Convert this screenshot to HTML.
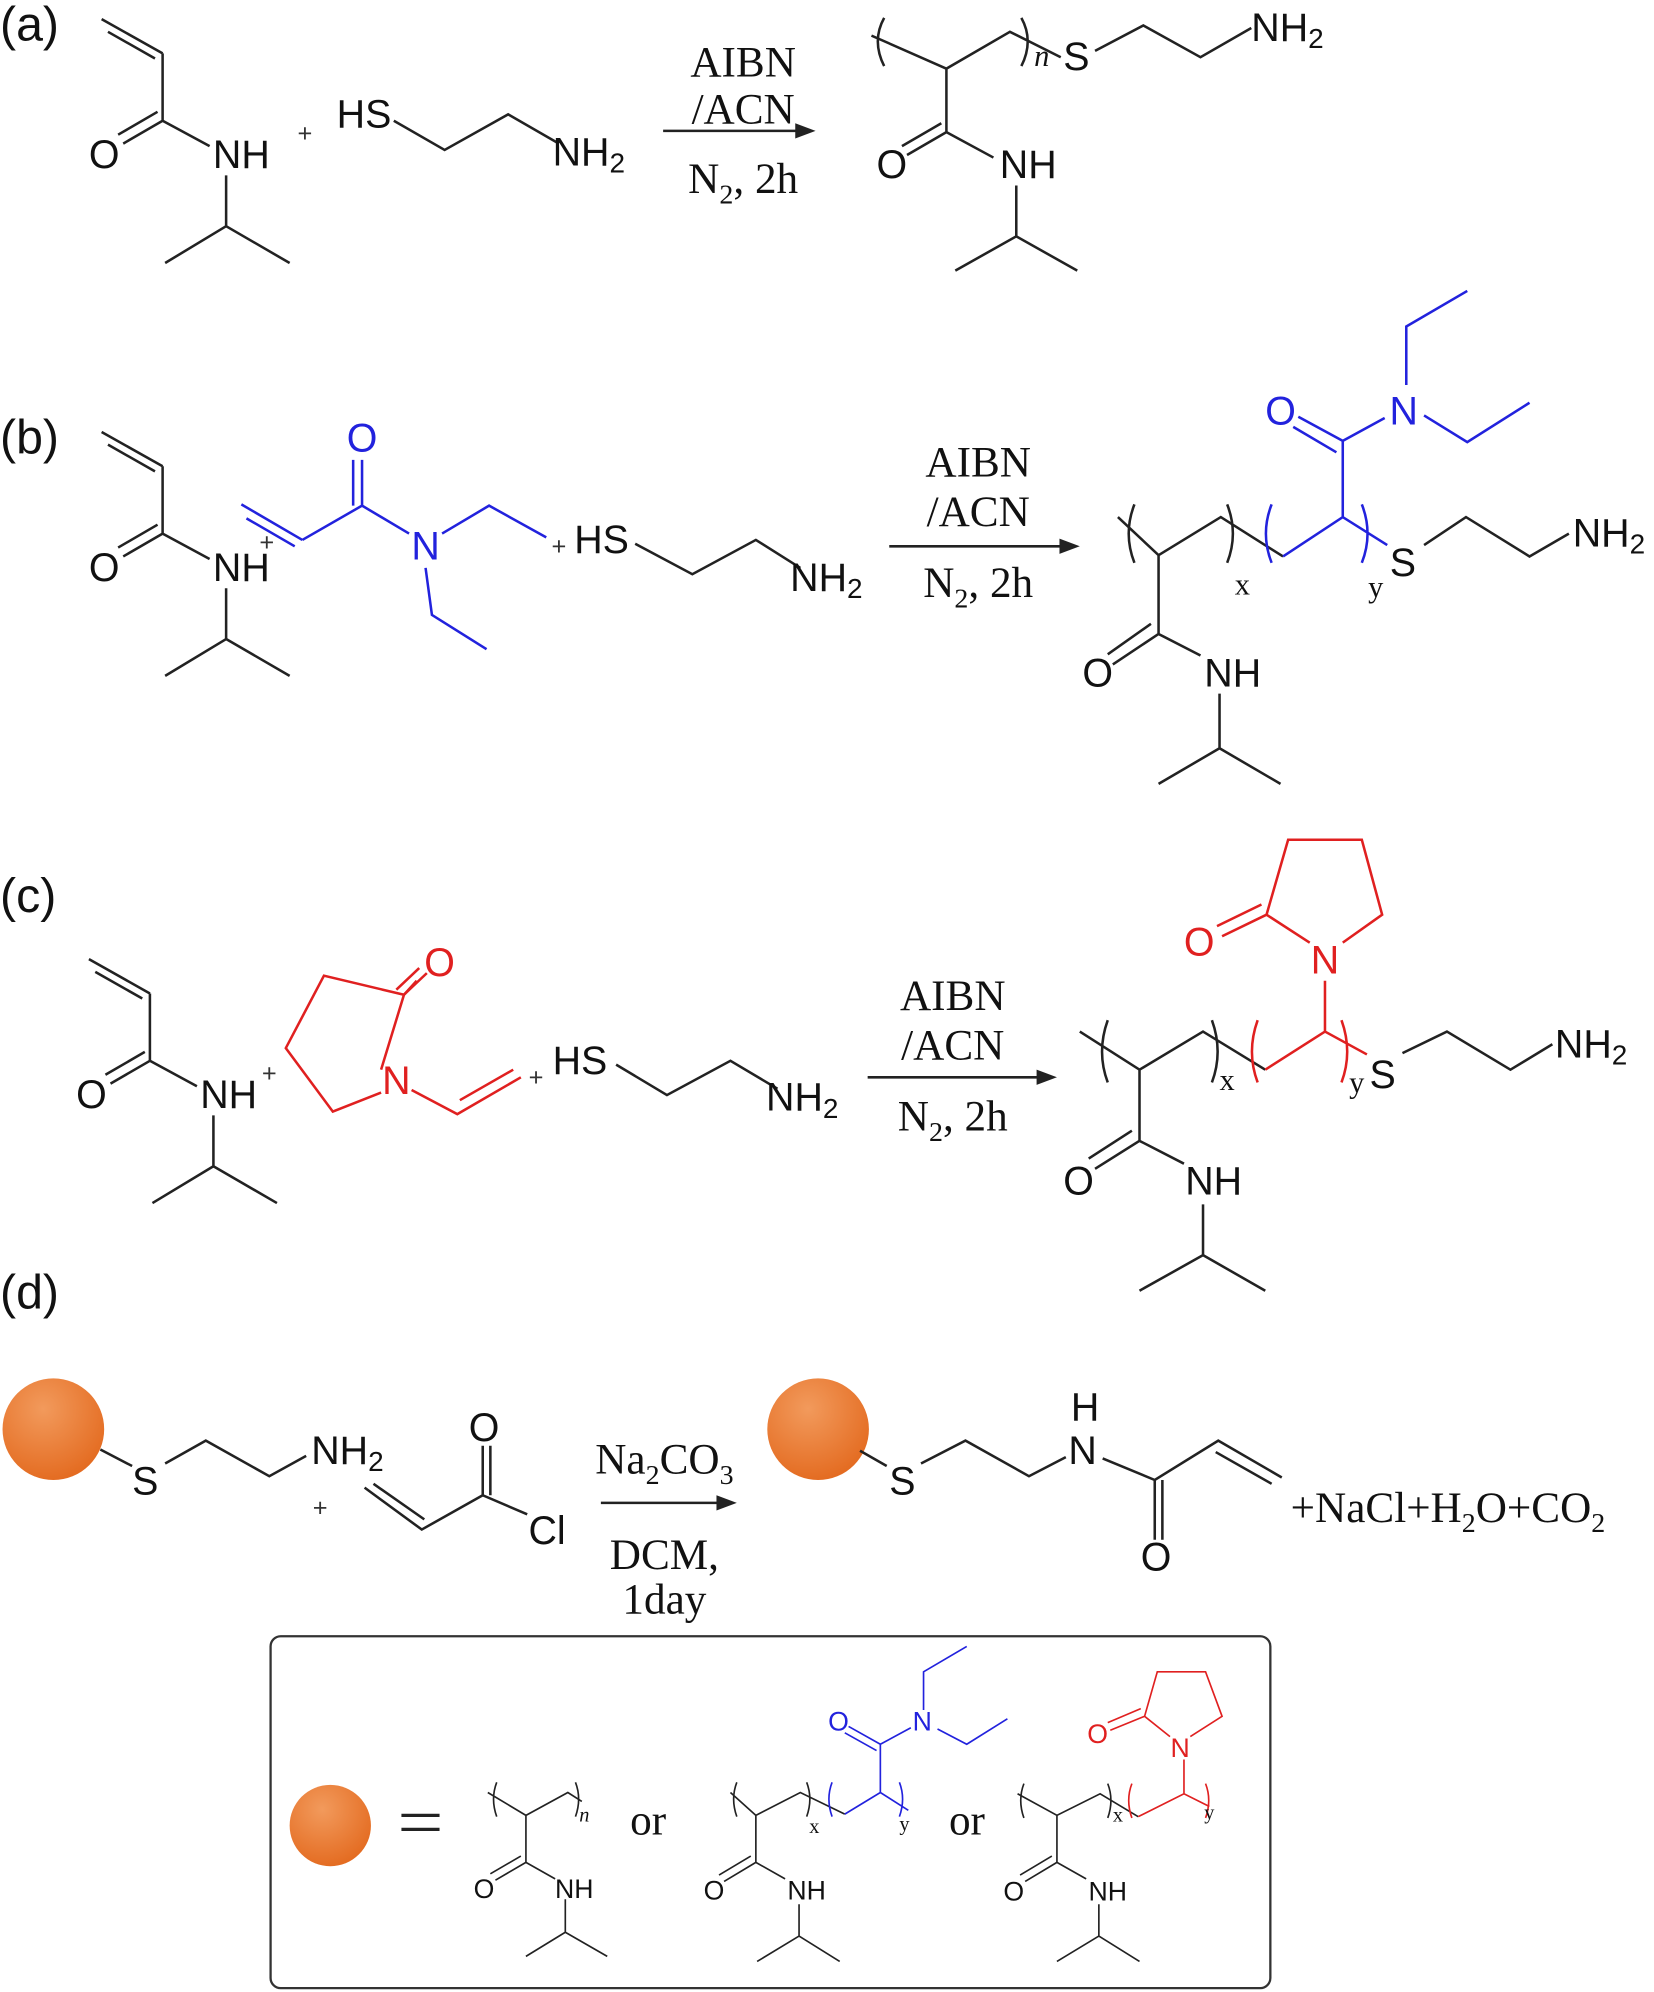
<!DOCTYPE html>
<html><head><meta charset="utf-8"><style>
html,body{margin:0;padding:0;background:#fff;}
svg{display:block;}
.s{font-family:"Liberation Sans",sans-serif;font-size:31px;}
.r{font-family:"Liberation Serif",serif;font-size:34px;}
.sm{font-family:"Liberation Sans",sans-serif;font-size:21px;}
</style></head><body>
<svg width="1654" height="1992" viewBox="0 0 1302 1568" xmlns="http://www.w3.org/2000/svg">
<defs>
<radialGradient id="og" cx="0.4" cy="0.3" r="0.8">
<stop offset="0" stop-color="#f29a5c"/><stop offset="1" stop-color="#e2661a"/>
</radialGradient>
</defs>
<g fill="none" stroke="#222" stroke-width="2" stroke-linecap="round">
</g>

<!-- labels -->
<g class="s" fill="#111">
<text x="0" y="32" style="font-size:38px">(a)</text>
<text x="0" y="357" style="font-size:38px">(b)</text>
<text x="0" y="718" style="font-size:38px">(c)</text>
<text x="0" y="1030" style="font-size:38px">(d)</text>
</g>

<!-- NIPAM monomers -->
<g id="m1">
<g fill="none" stroke="#222" stroke-width="2">
<path d="M80 15 L128 42 M85 25 L122 46 M128 42 L128 95 M128 95 L97 113 M124 88 L93 106 M128 95 L165 115 M178 138 L178 178 L130 207 M178 178 L228 207"/>
</g>
<g class="s" fill="#111" text-anchor="middle" dominant-baseline="central"><text x="82" y="122">O</text><text x="190" y="122">NH</text></g>
</g>
<g transform="translate(0,325)">
<g fill="none" stroke="#222" stroke-width="2">
<path d="M80 15 L128 42 M85 25 L122 46 M128 42 L128 95 M128 95 L97 113 M124 88 L93 106 M128 95 L165 115 M178 138 L178 178 L130 207 M178 178 L228 207"/>
</g>
<g class="s" fill="#111" text-anchor="middle" dominant-baseline="central"><text x="82" y="122">O</text><text x="190" y="122">NH</text></g>
</g>
<g transform="translate(-10,740)">
<g fill="none" stroke="#222" stroke-width="2">
<path d="M80 15 L128 42 M85 25 L122 46 M128 42 L128 95 M128 95 L97 113 M124 88 L93 106 M128 95 L165 115 M178 138 L178 178 L130 207 M178 178 L228 207"/>
</g>
<g class="s" fill="#111" text-anchor="middle" dominant-baseline="central"><text x="82" y="122">O</text><text x="190" y="122">NH</text></g>
</g>

<!-- pluses -->
<g class="s" fill="#333" style="font-size:20px" text-anchor="middle" dominant-baseline="central">
<text x="240" y="105">+</text><text x="210" y="427">+</text><text x="440" y="430">+</text>
<text x="212" y="845">+</text><text x="422" y="848">+</text><text x="252" y="1187">+</text>
</g>

<!-- thiols (a)(b)(c) -->
<g fill="none" stroke="#222" stroke-width="2">
<path d="M310 95 L350 118 L400 90 L440 113"/>
<path d="M500 428 L545 452 L595 425 L630 447"/>
<path d="M485 838 L525 862 L575 835 L612 857"/>
</g>
<g class="s" fill="#111" dominant-baseline="central">
<text x="265" y="90">HS</text><text x="435" y="120">NH<tspan style="font-size:22px" dy="8">2</tspan></text>
<text x="452" y="425">HS</text><text x="622" y="455">NH<tspan style="font-size:22px" dy="8">2</tspan></text>
<text x="435" y="835">HS</text><text x="603" y="864">NH<tspan style="font-size:22px" dy="8">2</tspan></text>
</g>

<!-- DEAA blue -->
<g fill="none" stroke="#2222dd" stroke-width="2">
<path d="M190 397 L238 425 M194 408 L232 430 M238 425 L285 398 M285 398 L285 362 M278 398 L278 362 M285 398 L322 420 M348 420 L385 398 L430 423 M335 447 L340 484 L383 511"/>
</g>
<g class="s" fill="#2222dd" text-anchor="middle" dominant-baseline="central"><text x="285" y="345">O</text><text x="335" y="430">N</text></g>

<!-- NVP red -->
<g fill="none" stroke="#e02020" stroke-width="2">
<path d="M318 783 L328 772 M318 783 L300 842 M318 783 L255 768 L225 825 L262 875 L300 860 M324 858 L360 877 L410 848 M362 866 L404 842"/>
<path d="M318 783 L336 766 M312 779 L330 762"/>
</g>
<g class="s" fill="#e02020" text-anchor="middle" dominant-baseline="central"><text x="346" y="758">O</text><text x="312" y="851">N</text></g>

<!-- arrows & conditions -->
<g fill="none" stroke="#222" stroke-width="2">
<path d="M522 103 L630 103 M700 430 L838 430 M683 848 L820 848 M473 1183 L565 1183"/>
</g>
<g fill="#222">
<polygon points="642,103 626,97 626,109"/><polygon points="850,430 834,424 834,436"/>
<polygon points="832,848 816,842 816,854"/><polygon points="580,1183 564,1177 564,1189"/>
</g>
<g class="r" fill="#111" text-anchor="middle">
<text x="585" y="60">AIBN</text><text x="585" y="97">/ACN</text><text x="585" y="152">N<tspan style="font-size:22px" dy="8">2</tspan><tspan dy="-8">, 2h</tspan></text>
<text x="770" y="375">AIBN</text><text x="770" y="414">/ACN</text><text x="770" y="470">N<tspan style="font-size:22px" dy="8">2</tspan><tspan dy="-8">, 2h</tspan></text>
<text x="750" y="795">AIBN</text><text x="750" y="834">/ACN</text><text x="750" y="890">N<tspan style="font-size:22px" dy="8">2</tspan><tspan dy="-8">, 2h</tspan></text>
<text x="523" y="1160">Na<tspan style="font-size:22px" dy="8">2</tspan><tspan dy="-8">CO</tspan><tspan style="font-size:22px" dy="8">3</tspan></text>
<text x="523" y="1235">DCM,</text><text x="523" y="1270">1day</text>
</g>

<!-- product (a) -->
<g fill="none" stroke="#222" stroke-width="2">
<path d="M686 28 L745 54 L795 25 L835 45 M696 14 Q686 32 696 52 M804 14 Q814 32 804 52 M862 40 L900 20 L945 45 L985 22 M745 54 L745 104 M745 104 L714 122 M741 97 L710 115 M745 104 L782 124 M800 146 L800 186 L752 213 M800 186 L848 213"/>
</g>
<g class="s" fill="#111" dominant-baseline="central">
<text x="690" y="130">O</text><text x="787" y="130">NH</text><text x="837" y="45">S</text>
<text x="985" y="22">NH<tspan style="font-size:22px" dy="8">2</tspan></text>
</g>
<text x="814" y="52" class="r" style="font-size:24px;font-style:italic" fill="#111">n</text>

<!-- product (b) -->
<g fill="none" stroke="#222" stroke-width="2">
<path d="M880 407 L912 437 L961 407 L1010 438 M893 397 Q884 420 893 443 M966 397 Q975 420 966 443 M1121 429 L1154 407 L1204 438 L1235 420 M912 437 L912 499 M912 499 L876 523 M906 491 L872 515 M912 499 L945 516 M960 546 L960 589 L912 617 M960 589 L1008 617"/>
</g>
<g fill="none" stroke="#2222dd" stroke-width="2">
<path d="M1010 438 L1057 407 L1092 429 M1001 397 Q992 420 1001 443 M1072 397 Q1081 420 1072 443 M1057 407 L1057 347 M1057 347 L1022 328 M1052 356 L1018 336 M1057 347 L1090 329 M1107 303 L1107 257 L1155 229 M1121 327 L1155 348 L1204 317"/>
</g>
<g class="s" fill="#2222dd" text-anchor="middle" dominant-baseline="central"><text x="1008" y="324">O</text><text x="1105" y="324">N</text></g>
<g class="s" fill="#111" dominant-baseline="central">
<text x="852" y="530">O</text><text x="948" y="530">NH</text><text x="1094" y="443">S</text>
<text x="1238" y="420">NH<tspan style="font-size:22px" dy="8">2</tspan></text>
</g>
<g class="r" fill="#111" style="font-size:24px"><text x="972" y="468">x</text><text x="1077" y="470">y</text></g>

<!-- product (c) -->
<g fill="none" stroke="#222" stroke-width="2">
<path d="M850 812 L897 842 L947 812 L996 842 M872 803 Q863 828 872 852 M954 803 Q963 828 954 852 M1104 829 L1139 812 L1189 842 L1222 822 M897 842 L897 898 M897 898 L862 920 M891 890 L857 912 M897 898 L932 916 M947 948 L947 988 L897 1016 M947 988 L996 1016"/>
</g>
<g fill="none" stroke="#e02020" stroke-width="2">
<path d="M996 842 L1043 812 L1076 830 M990 803 Q981 828 990 852 M1056 803 Q1065 828 1056 852 M1043 812 L1043 772 M1057 742 L1088 720 L1072 661 L1014 661 L997 720 L1031 742 M997 720 L962 737 M993 712 L958 729"/>
</g>
<g class="s" fill="#e02020" text-anchor="middle" dominant-baseline="central"><text x="944" y="742">O</text><text x="1043" y="756">N</text></g>
<g class="s" fill="#111" dominant-baseline="central">
<text x="837" y="930">O</text><text x="933" y="930">NH</text><text x="1078" y="846">S</text>
<text x="1224" y="822">NH<tspan style="font-size:22px" dy="8">2</tspan></text>
</g>
<g class="r" fill="#111" style="font-size:24px"><text x="960" y="858">x</text><text x="1062" y="860">y</text></g>

<!-- panel (d) -->
<circle cx="42" cy="1125" r="40" fill="url(#og)"/>
<circle cx="644" cy="1125" r="40" fill="url(#og)"/>
<g fill="none" stroke="#222" stroke-width="2">
<path d="M79 1141 L104 1154 M130 1152 L162 1134 L212 1162 L241 1146"/>
<path d="M287 1171 L332 1204 L380 1177 M294 1168 L334 1196 M380 1177 L380 1138 M386 1177 L386 1138 M380 1177 L415 1192"/>
<path d="M677 1142 L698 1154 M725 1152 L760 1134 L810 1162 L839 1147 M868 1148 L909 1165 L959 1134 L1009 1163 M957 1143 L1001 1168 M909 1165 L909 1212 M915 1165 L915 1212"/>
</g>
<g class="s" fill="#111" dominant-baseline="central">
<text x="104" y="1166">S</text><text x="245" y="1142">NH<tspan style="font-size:22px" dy="8">2</tspan></text>
<text x="369" y="1124">O</text><text x="416" y="1205">Cl</text>
<text x="700" y="1166">S</text><text x="841" y="1142">N</text><text x="843" y="1108">H</text><text x="898" y="1226">O</text>
</g>
<text x="1016" y="1198" class="r" fill="#111">+NaCl+H<tspan style="font-size:22px" dy="8">2</tspan><tspan dy="-8">O+CO</tspan><tspan style="font-size:22px" dy="8">2</tspan></text>

<!-- box -->
<rect x="213" y="1288" width="787" height="277" rx="8" fill="none" stroke="#333" stroke-width="1.8"/>
<circle cx="260" cy="1437" r="32" fill="url(#og)"/>
<g fill="none" stroke="#222" stroke-width="2.5"><path d="M316 1429 L346 1429 M316 1440 L346 1440"/></g>
<g class="r" fill="#111" style="font-size:34px"><text x="496" y="1444">or</text><text x="747" y="1444">or</text></g>
<g fill="none" stroke="#222" stroke-width="1.3">
<path d="M384 1411 L414 1429 L447 1411 L458 1418 M391 1403 Q386 1416 391 1430 M453 1403 Q458 1416 453 1430 M414 1429 L414 1466 M414 1466 L390 1480 M410 1461 L386 1475 M414 1466 L437 1479 M445 1495 L445 1521 L414 1540 M445 1521 L478 1540"/>
<path d="M575 1411 L595 1429 L630 1411 L665 1428 M580 1403 Q575 1416 580 1430 M635 1403 Q640 1416 635 1430 M595 1429 L595 1466 M595 1466 L570 1481 M591 1461 L566 1476 M595 1466 L618 1479 M629 1499 L629 1524 L596 1544 M629 1524 L661 1544"/>
<path d="M801 1412 L832 1429 L866 1412 L896 1430 M806 1404 Q801 1417 806 1431 M872 1404 Q877 1417 872 1431 M832 1429 L832 1466 M832 1466 L807 1481 M828 1461 L803 1476 M832 1466 L855 1479 M865 1499 L865 1524 L832 1544 M865 1524 L897 1544"/>
</g>
<g fill="none" stroke="#2222dd" stroke-width="1.3">
<path d="M665 1428 L693 1411 L715 1425 M655 1403 Q650 1416 655 1430 M708 1403 Q713 1416 708 1430 M693 1411 L693 1373 M693 1373 L668 1359 M690 1378 L665 1364 M693 1373 L717 1360 M727 1346 L727 1316 L761 1296 M738 1361 L761 1373 L793 1353"/>
</g>
<g fill="none" stroke="#e02020" stroke-width="1.3">
<path d="M896 1430 L932 1412 L952 1422 M891 1404 Q886 1417 891 1431 M949 1404 Q954 1417 949 1431 M932 1412 L932 1385 M937 1367 L962 1351 L949 1316 L911 1316 L901 1351 L921 1367 M901 1351 L874 1362 M898 1345 L872 1356"/>
</g>
<g class="sm" fill="#111" text-anchor="middle" dominant-baseline="central">
<text x="381" y="1487">O</text><text x="452" y="1487">NH</text>
<text x="562" y="1488">O</text><text x="635" y="1488">NH</text>
<text x="798" y="1489">O</text><text x="872" y="1489">NH</text>
</g>
<g class="sm" fill="#2222dd" text-anchor="middle" dominant-baseline="central"><text x="660" y="1355">O</text><text x="726" y="1355">N</text></g>
<g class="sm" fill="#e02020" text-anchor="middle" dominant-baseline="central"><text x="864" y="1365">O</text><text x="929" y="1376">N</text></g>
<g class="r" fill="#111" style="font-size:16px">
<text x="456" y="1434" style="font-style:italic">n</text><text x="637" y="1443">x</text><text x="708" y="1441">y</text>
<text x="876" y="1434">x</text><text x="948" y="1432">y</text>
</g>
</svg>
</body></html>
